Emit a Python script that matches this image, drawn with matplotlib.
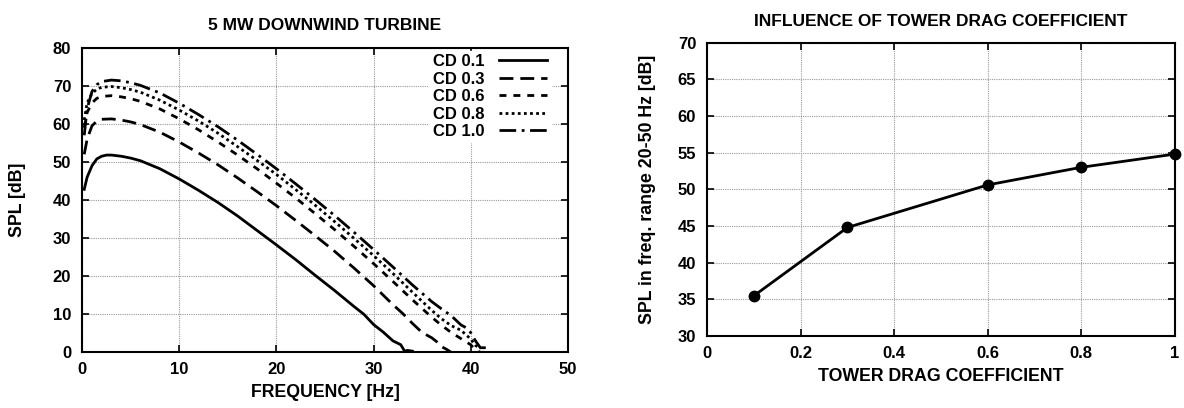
import matplotlib
matplotlib.use('Agg')
import matplotlib.pyplot as plt

plt.rcParams['font.family'] = ['Liberation Sans', 'DejaVu Sans']
plt.rcParams['font.weight'] = 'bold'

# left panel: spectra for different tower drag coefficients
f_cd01 = [0.2, 0.5, 1, 1.5, 2, 2.5, 3, 4, 5, 6, 8, 10, 12, 14, 16, 18, 20, 22, 24, 26, 28,
          29, 30, 31, 32, 32.8, 33.2, 33.5, 34]
spl_cd01 = [42.8, 46, 49, 50.8, 51.5, 51.8, 51.8, 51.5, 51, 50.3, 48.2, 45.5, 42.5, 39.3,
            35.8, 32, 28.2, 24.3, 20.2, 16.2, 12, 10, 7.3, 5.3, 3, 2, 0.3, 0.5, 0.3]

f_cd03 = [0.2, 0.5, 1, 1.5, 2, 3, 4, 5, 6, 8, 10, 12, 14, 16, 18, 20, 22, 24, 26, 28, 30,
          32, 33, 34, 35, 36, 36.5, 37, 37.5, 38]
spl_cd03 = [52, 56, 59.5, 60.7, 61.2, 61.3, 61, 60.5, 59.8, 57.8, 55.2, 52.3, 49.2, 45.8,
            42.2, 38.5, 34.6, 30.6, 26.5, 22.1, 17.5, 12.5, 10.2, 7.6, 5.2, 3.8, 2.8, 1.5,
            0.8, 0]

f_cd06 = [0.2, 0.5, 1, 1.5, 2, 3, 4, 5, 6, 8, 10, 12, 14, 16, 18, 20, 22, 24, 26, 28, 30,
          32, 34, 36, 37, 38, 39, 40, 40.5, 41]
spl_cd06 = [59, 63, 65.5, 66.7, 67.2, 67.4, 67.1, 66.6, 65.9, 63.9, 61.3, 58.4, 55.2, 51.8,
            48.2, 44.4, 40.5, 36.4, 32.2, 27.8, 23.3, 18.6, 13.8, 9.2, 7.1, 5.2, 3.6, 2.0,
            0.6, 0]

f_cd08 = [0.2, 0.5, 1, 1.5, 2, 3, 4, 5, 6, 8, 10, 12, 14, 16, 18, 20, 22, 24, 26, 28, 30,
          32, 34, 36, 37, 38, 39, 40, 40.5, 41]
spl_cd08 = [61, 65.5, 68, 69.1, 69.6, 69.8, 69.5, 69, 68.3, 66.2, 63.6, 60.7, 57.5, 54,
            50.4, 46.7, 42.7, 38.6, 34.3, 29.9, 25.4, 20.7, 15.8, 11, 8.8, 7, 5.8, 3.5,
            1.8, 1]

f_cd10 = [0.2, 0.5, 1, 1.5, 2, 3, 4, 5, 6, 8, 10, 12, 14, 16, 18, 20, 22, 24, 26, 28, 30,
          32, 34, 36, 37, 38, 39, 39.5, 40, 40.5, 41, 41.7]
spl_cd10 = [57, 64, 68.5, 70.3, 71.1, 71.5, 71.3, 70.8, 70.1, 68.1, 65.4, 62.4, 59.2, 55.7,
            52, 48.2, 44.2, 40.1, 35.9, 31.5, 27, 22.4, 17.7, 13.3, 11.4, 9.6, 7.2, 6.5,
            5.2, 3, 1.2, 1.2]

labels = ['CD 0.1', 'CD 0.3', 'CD 0.6', 'CD 0.8', 'CD 1.0']

# right panel: band level vs drag coefficient
cd_values = [0.1, 0.3, 0.6, 0.8, 1.0]
spl_band = [35.5, 44.8, 50.6, 53.0, 54.8]

fig = plt.figure(figsize=(11.84, 4.08), dpi=100)
ax1 = fig.add_axes([0.0695, 0.1365, 0.410, 0.7466])
ax2 = fig.add_axes([0.5974, 0.1765, 0.3946, 0.7189])

# gnuplot-like dash patterns
styles = ['-', (0, (5, 2.5)), (0, (2.5, 2.5)), (0, (1, 1.2)), (0, (6, 2, 1, 2))]
curves = [(f_cd01, spl_cd01), (f_cd03, spl_cd03), (f_cd06, spl_cd06),
          (f_cd08, spl_cd08), (f_cd10, spl_cd10)]
for (f, s), lab, ls in zip(curves, labels, styles):
    ax1.plot(f, s, color='black', linewidth=2.0, label=lab, linestyle=ls)

ax1.set_xlim(0, 50)
ax1.set_ylim(0, 80)
ax1.set_xticks(range(0, 51, 10))
ax1.set_yticks(range(0, 81, 10))
ax1.set_title('5 MW DOWNWIND TURBINE', fontsize=12.5, fontweight='bold', pad=12.5)
ax1.set_xlabel('FREQUENCY [Hz]', fontsize=12.8, fontweight='bold', labelpad=5)
ax1.set_ylabel('SPL [dB]', fontsize=12.8, fontweight='bold')
ax1.yaxis.set_label_coords(-0.116, 0.5)
ax1.legend(loc='upper right', bbox_to_anchor=(0.965, 0.99), markerfirst=False,
           frameon=True, fancybox=False, edgecolor='white', framealpha=1,
           handlelength=2.9, labelspacing=0.15, borderaxespad=0, borderpad=0.2,
           handletextpad=0.9, prop={'weight': 'bold', 'size': 12})

ax2.plot(cd_values, spl_band, color='black', linewidth=2.0, marker='o', markersize=7.5,
         clip_on=False, zorder=5)
ax2.set_xlim(0, 1)
ax2.set_ylim(30, 70)
ax2.set_xticks([0, 0.2, 0.4, 0.6, 0.8, 1.0])
ax2.set_xticklabels(['0', '0.2', '0.4', '0.6', '0.8', '1'])
ax2.set_yticks(range(30, 71, 5))
ax2.set_title('INFLUENCE OF TOWER DRAG COEFFICIENT', fontsize=12.5, fontweight='bold', pad=12)
ax2.set_xlabel('TOWER DRAG COEFFICIENT', fontsize=12.8, fontweight='bold', labelpad=5)
ax2.set_ylabel('SPL in freq. range 20-50 Hz [dB]', fontsize=12.8, fontweight='bold')
ax2.yaxis.set_label_coords(-0.11, 0.5)

for ax in (ax1, ax2):
    ax.grid(True, color='#999999', linestyle=(0, (1, 1)), linewidth=0.8)
    ax.set_axisbelow(True)
    ax.tick_params(direction='in', top=True, right=True, length=5, width=1.2,
                   labelsize=12)
    ax.tick_params(axis='x', pad=7)
    ax.tick_params(axis='y', pad=8)
    for lbl in ax.get_xticklabels() + ax.get_yticklabels():
        lbl.set_fontweight('bold')
    for sp in ax.spines.values():
        sp.set_linewidth(1.5)

fig.savefig('out.png', dpi=100)
